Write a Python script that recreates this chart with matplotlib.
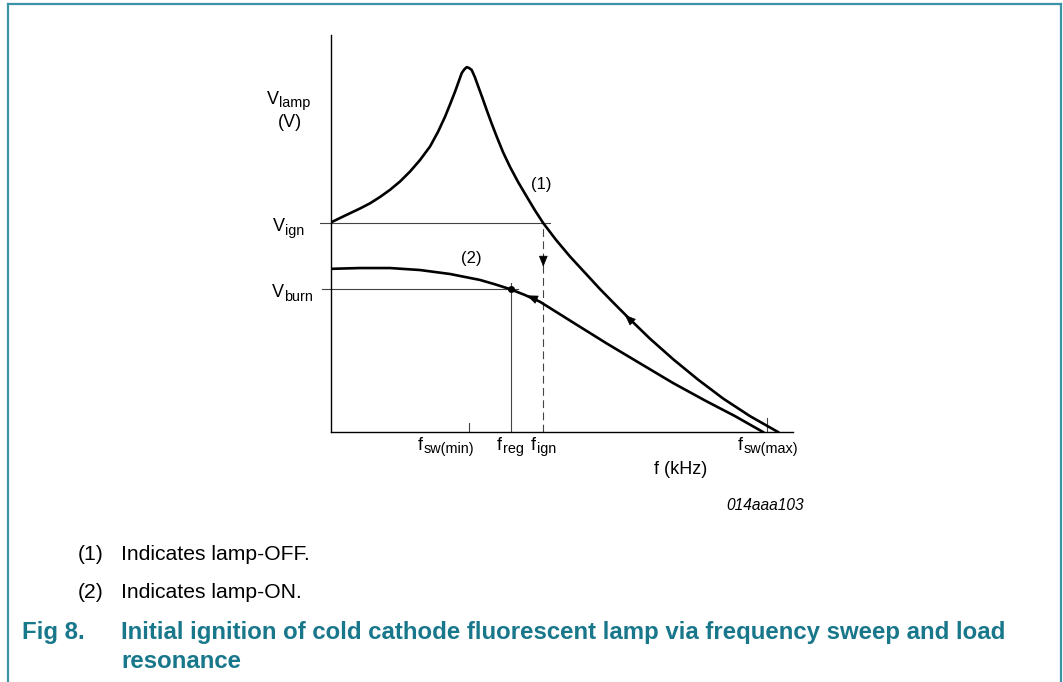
import matplotlib
matplotlib.use("Agg")
import matplotlib.pyplot as plt
from matplotlib.lines import Line2D

plt.rcParams['font.family'] = ['Liberation Sans', 'DejaVu Sans']

# curve (1): lamp-OFF, frequency (arb. units) vs lamp voltage (arb. units)
f_off = [0.0, 1.95, 4.11, 6.28, 8.44, 10.61, 12.77, 14.94, 17.1, 19.26, 21.43, 23.16,
         24.68, 25.76, 26.84, 28.29, 28.83, 29.37, 29.87, 30.45, 31.17, 31.88, 32.79,
         33.7, 34.74, 35.87, 37.23, 38.74, 40.48, 42.36, 44.16, 45.95, 48.7, 51.73,
         54.98, 58.23, 61.26, 64.35, 69.05, 74.09, 79.44, 84.91, 90.69, 96.75]
v_off = [52.8, 53.9, 55.1, 56.3, 57.6, 59.2, 61.0, 63.1, 65.6, 68.5, 71.9, 75.6,
         79.4, 82.5, 85.7, 90.4, 91.3, 91.9, 91.7, 91.2, 89.3, 87.0, 84.1,
         81.1, 77.8, 74.4, 70.5, 66.8, 63.0, 59.3, 55.8, 52.6, 48.4, 44.2,
         40.1, 36.0, 32.4, 28.8, 23.5, 18.3, 13.2, 8.4, 4.0, 0.0]

# curve (2): lamp-ON
f_on = [0.0, 6.28, 12.77, 19.26, 25.76, 32.25, 35.5, 38.74, 41.99, 45.24, 52.38,
        59.68, 66.88, 74.09, 81.17, 87.45, 93.5]
v_on = [41.1, 41.3, 41.3, 40.8, 39.8, 38.3, 37.2, 36.0, 34.5, 32.8, 27.6,
        22.3, 17.3, 12.3, 7.8, 4.0, 0.0]

# levels
v_ign = 52.6
v_burn = 36.0
f_sw_min = 29.9
f_reg = 39.0
f_ign = 45.95
f_sw_max = 94.4

W, H = 1063, 682
fig = plt.figure(figsize=(W / 100, H / 100), dpi=100)
rend = fig.canvas.get_renderer()

def fx(x):
    return x / W

def fy(y):
    return 1 - y / H

def sub_text(x, y, main, sub, fs=13):
    # main letter then a lowered, smaller subscript (x = left edge, y = baseline, pixels)
    t = fig.text(fx(x), fy(y), main, fontsize=fs, va='baseline', ha='left')
    x1 = t.get_window_extent(rend).x1
    fig.text(x1 / W + 0.5 / W, fy(y + 3.5), sub, fontsize=fs * 0.8, va='baseline', ha='left')

ax = fig.add_axes([fx(331), fy(432), (793 - 331) / W, (432 - 35) / H])
ax.set_xlim(0, 100)
ax.set_ylim(0, 100)
ax.patch.set_alpha(0)
for s in ['top', 'right']:
    ax.spines[s].set_visible(False)
for s in ['left', 'bottom']:
    ax.spines[s].set_linewidth(1.0)
ax.set_xticks([])
ax.set_yticks([])

thin = dict(color='#444444', lw=0.8, clip_on=False)
ax.plot([-2.4, 47.4], [v_ign, v_ign], **thin)
ax.plot([-1.9, 40.5], [v_burn, v_burn], **thin)
ax.plot([f_reg, f_reg], [0, 37.5], **thin)
ax.plot([f_ign, f_ign], [0, v_ign], color='#444444', lw=0.8, dashes=(7, 4))
ax.plot([f_sw_min, f_sw_min], [0, 2.3], **thin)
ax.plot([f_sw_max, f_sw_max], [0, 3.5], **thin)

ax.plot(f_off, v_off, color='black', lw=1.9, solid_joinstyle='round')
ax.plot(f_on, v_on, color='black', lw=1.9, solid_joinstyle='round')
ax.plot([f_reg], [v_burn], 'o', color='black', ms=4)

head = dict(arrowstyle='-|>,head_length=0.7,head_width=0.28', color='black', lw=0.5,
            shrinkA=0, shrinkB=0)
ax.annotate('', xy=(63.6, 29.5), xytext=(66.2, 26.7), arrowprops=head)
ax.annotate('', xy=(42.4, 34.4), xytext=(44.8, 33.2), arrowprops=head)
ax.annotate('', xy=(f_ign, 41.6), xytext=(f_ign, 44.4), arrowprops=head)

# chart labels
fs = 13
sub_text(267, 104, 'V', 'lamp')
fig.text(fx(290), fy(127), '(V)', fontsize=fs, ha='center', va='baseline')
sub_text(273, 231, 'V', 'ign')
sub_text(272, 297, 'V', 'burn')
fig.text(fx(541), fy(185), '(1)', fontsize=12, ha='center', va='center')
fig.text(fx(471), fy(258), '(2)', fontsize=12, ha='center', va='center')
sub_text(418, 450, 'f', 'sw(min)')
sub_text(497, 450, 'f', 'reg')
sub_text(531, 450, 'f', 'ign')
sub_text(738, 450, 'f', 'sw(max)')
fig.text(fx(681), fy(469), 'f (kHz)', fontsize=fs, ha='center', va='center')
fig.text(fx(804), fy(506), '014aaa103', fontsize=11.2, style='italic', ha='right', va='center')

# notes and caption
fs_note = 15.2
fig.text(fx(78), fy(554), '(1)', fontsize=fs_note, va='center')
fig.text(fx(121), fy(554), 'Indicates lamp-OFF.', fontsize=fs_note, va='center')
fig.text(fx(78), fy(592), '(2)', fontsize=fs_note, va='center')
fig.text(fx(121), fy(592), 'Indicates lamp-ON.', fontsize=fs_note, va='center')
teal = '#18778a'
fs_cap = 17.3
fig.text(fx(22), fy(633), 'Fig 8.', fontsize=fs_cap, weight='bold', color=teal, va='center')
fig.text(fx(121), fy(633), 'Initial ignition of cold cathode fluorescent lamp via frequency sweep and load',
         fontsize=fs_cap, weight='bold', color=teal, va='center')
fig.text(fx(121), fy(662), 'resonance', fontsize=fs_cap, weight='bold', color=teal, va='center')

# frame
frame = '#3d93a6'
fig.add_artist(Line2D([fx(8), fx(1061)], [fy(4), fy(4)], color=frame, lw=1.6))
fig.add_artist(Line2D([fx(8), fx(8)], [fy(4), 0], color=frame, lw=1.6))
fig.add_artist(Line2D([fx(1061), fx(1061)], [fy(4), 0], color=frame, lw=1.6))

fig.savefig('out.png', dpi=100)
